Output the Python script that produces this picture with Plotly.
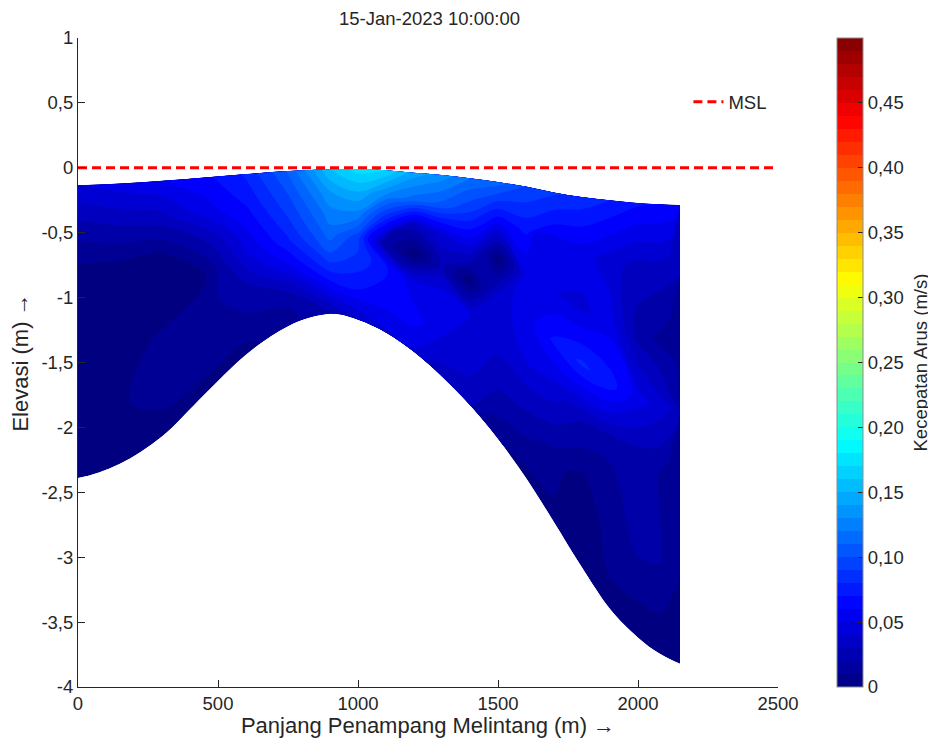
import plotly.graph_objects as go

# ---------------- data ----------------
stations = [0, 150, 300, 450, 600, 750, 900, 1000, 1100, 1200, 1300, 1400, 1500, 1600,
            1700, 1800, 1900, 2000, 2075, 2150]
surface = [-0.135, -0.12, -0.10, -0.075, -0.048, -0.025, -0.012, -0.01, -0.018, -0.038,
           -0.055, -0.08, -0.11, -0.145, -0.19, -0.225, -0.25, -0.272, -0.281, -0.287]
bed = [-2.39, -2.28, -2.07, -1.75, -1.44, -1.22, -1.125, -1.17, -1.27, -1.42,
       -1.61, -1.83, -2.09, -2.39, -2.73, -3.08, -3.40, -3.62, -3.74, -3.82]
sigma = [0.0, 0.15, 0.3, 0.45, 0.6, 0.8, 1.0]

speed_s000 = [0.050, 0.055, 0.060, 0.067, 0.082, 0.111, 0.160, 0.175, 0.170, 0.146,
              0.136, 0.120, 0.115, 0.100, 0.092, 0.087, 0.080, 0.072, 0.070, 0.067]
speed_s015 = [0.025, 0.030, 0.035, 0.055, 0.072, 0.100, 0.140, 0.150, 0.130, 0.115,
              0.106, 0.090, 0.065, 0.072, 0.058, 0.055, 0.045, 0.035, 0.035, 0.031]
speed_s030 = [0.006, 0.006, 0.006, 0.028, 0.060, 0.090, 0.126, 0.126, 0.082, 0.035,
              0.045, 0.050, 0.004, 0.050, 0.050, 0.048, 0.055, 0.026, 0.018, 0.014]
speed_s045 = [0.006, 0.004, 0.003, 0.008, 0.048, 0.078, 0.115, 0.095, 0.026, 0.002,
              0.031, 0.004, 0.045, 0.055, 0.072, 0.082, 0.075, 0.055, 0.045, 0.035]
speed_s060 = [0.006, 0.007, 0.011, 0.014, 0.030, 0.060, 0.097, 0.087, 0.072, 0.050,
              0.055, 0.050, 0.045, 0.050, 0.045, 0.031, 0.021, 0.021, 0.020, 0.016]
speed_s080 = [0.005, 0.008, 0.016, 0.018, 0.018, 0.026, 0.065, 0.070, 0.065, 0.065,
              0.050, 0.045, 0.031, 0.026, 0.016, 0.002, 0.016, 0.021, 0.020, 0.011]
speed_s100 = [0.004, 0.004, 0.003, 0.005, 0.006, 0.011, 0.026, 0.040, 0.048, 0.048,
              0.035, 0.031, 0.011, 0.006, 0.006, 0.006, 0.006, 0.002, 0.002, 0.002]

msl_x = [0, 2500]
msl_y = [0, 0]

x_ticks = [0, 500, 1000, 1500, 2000, 2500]
x_ticklabels = ["0", "500", "1000", "1500", "2000", "2500"]
y_ticks = [1, 0.5, 0, -0.5, -1, -1.5, -2, -2.5, -3, -3.5, -4]
y_ticklabels = ["1", "0,5", "0", "-0,5", "-1", "-1,5", "-2", "-2,5", "-3", "-3,5", "-4"]
cb_ticks = [0, 0.05, 0.10, 0.15, 0.20, 0.25, 0.30, 0.35, 0.40, 0.45]
cb_ticklabels = ["0", "0,05", "0,10", "0,15", "0,20", "0,25", "0,30", "0,35", "0,40", "0,45"]

title_text = "15-Jan-2023 10:00:00"
cb_title = "Kecepatan Arus (m/s)"
# --------------------------------------

speed = [speed_s000, speed_s015, speed_s030, speed_s045, speed_s060, speed_s080, speed_s100]

grid_x = [[stations[i] for i in range(len(stations))] for _ in sigma]
grid_y = [[surface[i] + s * (bed[i] - surface[i]) for i in range(len(stations))] for s in sigma]

# MATLAB-style jet colormap
jet_anchors = [(0.0, (0, 0, 128)), (0.125, (0, 0, 255)), (0.375, (0, 255, 255)),
               (0.625, (255, 255, 0)), (0.875, (255, 0, 0)), (1.0, (128, 0, 0))]
jet = [[p, "rgb(%d,%d,%d)" % c] for p, c in jet_anchors]


def jet_at(t):
    for (p0, c0), (p1, c1) in zip(jet_anchors[:-1], jet_anchors[1:]):
        if p0 <= t <= p1:
            f = (t - p0) / (p1 - p0)
            return "rgb(%d,%d,%d)" % tuple(round(a + f * (b - a)) for a, b in zip(c0, c1))
    return "rgb(128,0,0)"


ZMIN, ZMAX, STEP = 0.0, 0.5, 0.01
nb = int(round((ZMAX - ZMIN) / STEP))
banded = []
for k in range(nb):
    col = jet_at((k + 0.5) / nb)
    banded.append([k / nb, col])
    banded.append([(k + 1) / nb, col])

FONT = "Liberation Sans, Arial, sans-serif"
FS = 18.5
TXT = "#262626"
W, H = 928, 730
ML, MR, MT, MB = 70, 158, 30, 51
PW = W - ML - MR

hidden_axis = dict(showgrid=False, showline=False, showticklabels="none", startline=False,
                   endline=False, minorgridcount=0, gridcolor="rgba(0,0,0,0)",
                   linecolor="rgba(0,0,0,0)", smoothing=1)

fig = go.Figure()
fig.add_trace(go.Carpet(
    carpet="sec", a=stations, b=sigma, x=grid_x, y=grid_y,
    aaxis=hidden_axis, baxis=dict(hidden_axis, smoothing=0),
))
fig.add_trace(go.Contourcarpet(
    carpet="sec", a=stations, b=sigma, z=speed,
    colorscale=jet, zmin=ZMIN, zmax=ZMAX, autocontour=False,
    contours=dict(start=STEP, end=ZMAX - STEP, size=STEP, coloring="fill", showlines=False),
    line=dict(width=0), showscale=False, showlegend=False,
))
# colour bar (banded jet, 0 .. 0,5)
fig.add_trace(go.Scatter(
    x=[None], y=[None], mode="markers", showlegend=False, hoverinfo="skip",
    marker=dict(color=[ZMIN], cmin=ZMIN, cmax=ZMAX, colorscale=banded, showscale=True,
                colorbar=dict(
                    x=(829 - ML) / PW, xanchor="left", xpad=0,
                    y=0, yanchor="bottom", ypad=0,
                    lenmode="fraction", len=1.0, thickness=26,
                    outlinewidth=1, outlinecolor="#8c8c8c",
                    tickmode="array", tickvals=cb_ticks, ticktext=cb_ticklabels,
                    ticks="inside", ticklen=5, tickcolor="#262626",
                    tickfont=dict(family=FONT, size=FS, color=TXT),
                )),
))
fig.add_trace(go.Scatter(
    x=msl_x, y=msl_y, mode="lines", name="MSL",
    line=dict(color="#ff0000", width=3, dash="9px,5px"),
    hoverinfo="skip",
))

fig.add_annotation(
    text=cb_title, textangle=-90, showarrow=False,
    xref="paper", yref="paper", x=(912 - ML) / PW, y=0.5,
    xanchor="center", yanchor="middle",
    font=dict(family=FONT, size=FS, color=TXT),
)

fig.update_layout(
    width=W, height=H,
    margin=dict(l=ML, r=MR, t=MT, b=MB, autoexpand=False),
    paper_bgcolor="white", plot_bgcolor="white",
    font=dict(family=FONT, size=FS, color=TXT),
    title=dict(text=title_text, x=421.5 / W, xref="container", xanchor="center",
               y=1 - 11 / H, yref="container", yanchor="middle",
               font=dict(family=FONT, size=FS, color=TXT)),
    showlegend=True,
    legend=dict(x=0.872, y=0.901, xanchor="left", yanchor="middle", bgcolor="rgba(0,0,0,0)",
                font=dict(family=FONT, size=FS, color=TXT)),
    xaxis=dict(range=[0, 2500], tickmode="array", tickvals=x_ticks, ticktext=x_ticklabels,
               ticks="inside", ticklen=7, tickcolor="#262626", showline=True, linecolor="#262626",
               linewidth=1, showgrid=False, zeroline=False,
               title=dict(text="Panjang Penampang Melintang (m) →", standoff=2)),
    yaxis=dict(range=[-4, 1], tickmode="array", tickvals=y_ticks, ticktext=y_ticklabels,
               ticks="inside", ticklen=7, tickcolor="#262626", showline=True, linecolor="#262626",
               linewidth=1, showgrid=False, zeroline=False,
               title=dict(text="Elevasi (m) →", standoff=6)),
)

fig.write_html("out.html")
